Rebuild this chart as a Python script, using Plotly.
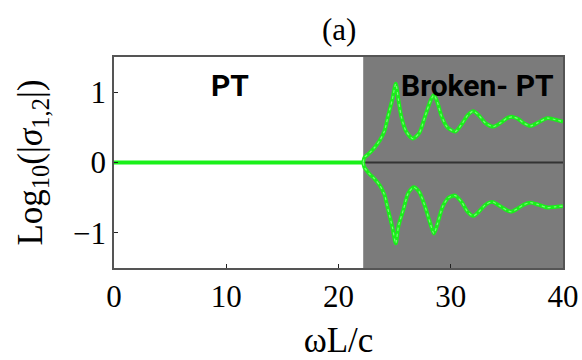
import plotly.graph_objects as go

# Threshold separating the PT-symmetric and broken-PT phases
omega_th = 22.2

# PT-symmetric phase: both eigenvalues unimodular
pt_x = [0.0, omega_th]
pt_y = [0.0, 0.0]

# Broken-PT phase, upper branch  log10|sigma_1|
up_x = [22.2, 22.3, 22.5, 22.8, 23.2, 23.7, 24.1, 24.4, 24.8, 25.1, 25.35, 25.6,
        26.0, 26.6, 27.2, 27.7, 28.2, 28.5, 28.8, 29.2, 29.7, 30.4, 31.0, 31.5,
        32.0, 32.5, 33.1, 33.8, 34.5, 35.0, 35.5, 36.0, 36.5, 37.1, 37.8, 38.6,
        39.3, 40.0]
up_y = [0.0, 0.07, 0.10, 0.14, 0.21, 0.32, 0.45, 0.65, 0.90, 1.12, 0.88, 0.65,
        0.45, 0.34, 0.42, 0.65, 0.88, 0.96, 0.86, 0.65, 0.50, 0.44, 0.55, 0.67,
        0.73, 0.67, 0.56, 0.51, 0.57, 0.63, 0.65, 0.62, 0.56, 0.52, 0.57, 0.63,
        0.61, 0.58]

# Broken-PT phase, lower branch  log10|sigma_2|
lo_x = [22.2, 22.3, 22.5, 22.8, 23.2, 23.7, 24.1, 24.4, 24.8, 25.1, 25.35, 25.8,
        26.2, 26.7, 27.2, 27.7, 28.2, 28.5, 28.8, 29.3, 29.8, 30.4, 31.0, 31.5,
        32.0, 32.5, 33.1, 33.7, 34.4, 35.0, 35.4, 35.9, 36.5, 37.1, 37.8, 38.6,
        39.3, 40.0]
lo_y = [0.0, -0.07, -0.11, -0.17, -0.23, -0.33, -0.46, -0.66, -0.92, -1.15, -0.90, -0.66,
        -0.44, -0.35, -0.42, -0.62, -0.88, -1.01, -0.88, -0.62, -0.50, -0.47, -0.57, -0.70,
        -0.76, -0.70, -0.60, -0.56, -0.62, -0.68, -0.70, -0.66, -0.60, -0.57, -0.60, -0.64,
        -0.63, -0.62]

x_ticks = [0, 10, 20, 30, 40]
y_ticks = [-1, 0, 1]

green = "#19f019"
serif = "Liberation Serif"
label_font = dict(family="Roboto", size=30, color="black")

fig = go.Figure()

for xs, ys, shape in [(pt_x, pt_y, "linear"), (up_x, up_y, "spline"), (lo_x, lo_y, "spline")]:
    fig.add_trace(go.Scatter(x=xs, y=ys, mode="lines", line_shape=shape,
                             line=dict(color=green, width=3.8, smoothing=0.7),
                             showlegend=False, hoverinfo="skip"))
# light dotted sheen along the broken-phase branches
for xs, ys in [(up_x, up_y), (lo_x, lo_y)]:
    fig.add_trace(go.Scatter(x=xs, y=ys, mode="lines", line_shape="spline",
                             line=dict(color="#9cff9c", width=1.2, dash="dot", smoothing=0.7),
                             opacity=0.7, showlegend=False, hoverinfo="skip"))

# Shaded broken-PT region and the zero axis inside it
fig.add_shape(type="rect", xref="x", yref="paper", x0=omega_th, x1=40, y0=0, y1=1,
              fillcolor="#7b7b7b", line_width=0, layer="below")
fig.add_shape(type="line", xref="x", yref="y", x0=omega_th, x1=40, y0=0, y1=0,
              line=dict(color="#333333", width=2), layer="below")

fig.add_annotation(x=10.3, y=1.1, text="<b>PT</b>", showarrow=False, font=label_font)
fig.add_annotation(x=32.4, y=1.1, text="<b>Broken- PT</b>", showarrow=False, font=label_font)
fig.add_annotation(x=0.5, y=1.128, xref="paper", yref="paper", yanchor="middle",
                   text="(a)", showarrow=False,
                   font=dict(family=serif, size=31, color="black"))

axis_common = dict(showgrid=False, zeroline=False, showline=True, mirror=True,
                   linecolor="#555555", linewidth=1.5, ticks="inside", ticklen=4,
                   tickcolor="#222222", automargin=False,
                   tickfont=dict(family=serif, size=31, color="black"))

fig.update_xaxes(range=[0, 40], tickvals=x_ticks,
                 title=dict(text="ωL/c", font=dict(family=serif, size=35, color="black"),
                            standoff=20),
                 **axis_common)
fig.update_yaxes(range=[-1.5, 1.5], tickvals=y_ticks, ticktext=["\u22121", "0", "1"],
                 title=dict(text="Log<sub>10</sub>(|<i>σ</i><sub>1,2</sub>|)",
                            font=dict(family=serif, size=35, color="black"), standoff=20),
                 **axis_common)

fig.update_layout(width=582, height=360, margin=dict(l=114, r=19, t=57, b=92),
                  plot_bgcolor="white", paper_bgcolor="white")

fig.write_html("out.html")
